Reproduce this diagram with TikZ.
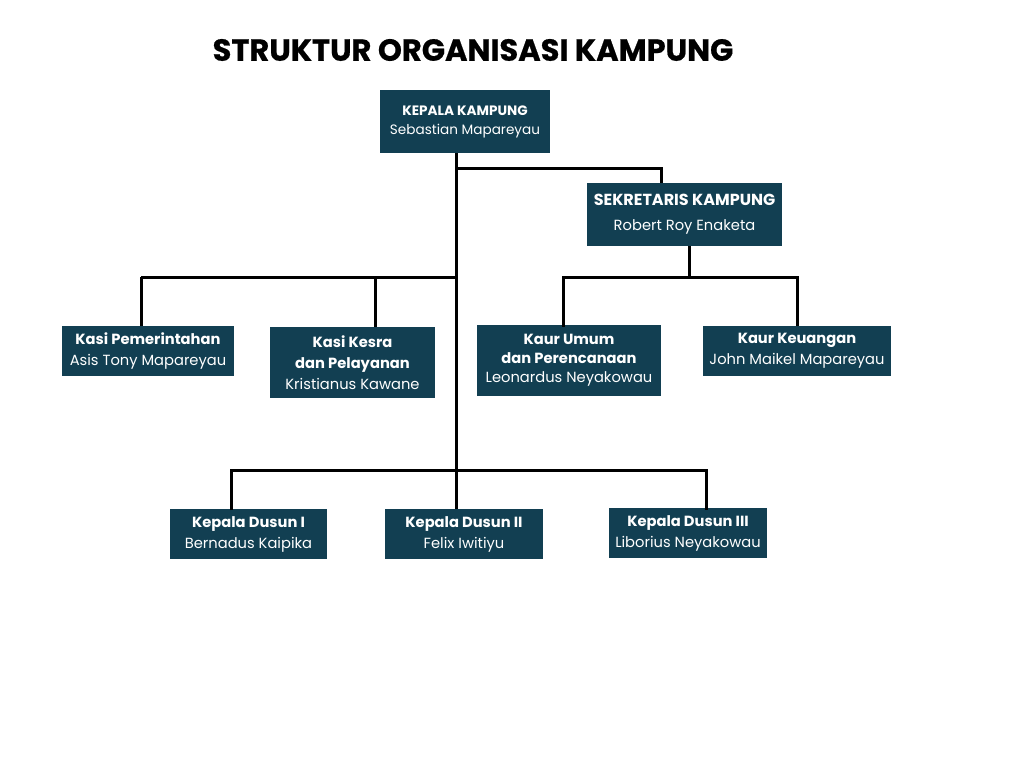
\documentclass[tikz,border=0pt]{standalone}
\usepackage{fontspec}
\setmainfont{Poppins}
\newfontfamily\titlefont{Poppins}[BoldFeatures={FakeBold=0.6}]
\definecolor{boxc}{HTML}{123F52}
\begin{document}
\begin{tikzpicture}[x=1pt,y=-1pt,
  box/.style={fill=boxc,text=white,inner sep=0pt,align=center,
    font=\fontsize{14.7}{21}\selectfont},
  ln/.style={line width=3pt,black}]
\useasboundingbox (0,0) rectangle (1024,768);
\node[font=\titlefont\bfseries\fontsize{30.5}{36}\selectfont] (title) at (473,50) {STRUKTUR ORGANISASI KAMPUNG};
\node[box,minimum width=170pt,minimum height=63pt,font=\fontsize{13.6}{19}\selectfont] (kk) at (465,121.5) {\textbf{KEPALA KAMPUNG}\\Sebastian Mapareyau};
\node[box,minimum width=195pt,minimum height=63pt] (sk) at (684.5,214.5) {{\fontsize{16}{19}\selectfont\textbf{SEKRETARIS KAMPUNG}}\\[4pt]Robert Roy Enaketa};
\node[box,minimum width=172pt,minimum height=50pt] (kp) at (148,351) {\textbf{Kasi Pemerintahan}\\Asis Tony Mapareyau};
\node[box,minimum width=165pt,minimum height=71pt] (ks) at (352.5,362.5) {\textbf{Kasi Kesra}\\\textbf{dan Pelayanan}\\Kristianus Kawane};
\node[box,minimum width=184pt,minimum height=71pt,font=\fontsize{14.7}{19}\selectfont] (ku) at (569,360) {\textbf{Kaur Umum}\\\textbf{dan Perencanaan}\\Leonardus Neyakowau};
\node[box,minimum width=188pt,minimum height=50pt] (kg) at (797,351) {\textbf{Kaur Keuangan}\\John Maikel Mapareyau};
\node[box,minimum width=157pt,minimum height=50pt] (d1) at (248.5,534) {\textbf{Kepala Dusun I}\\Bernadus Kaipika};
\node[box,minimum width=158pt,minimum height=50pt] (d2) at (464,534) {\textbf{Kepala Dusun II}\\Felix Iwitiyu};
\node[box,minimum width=158pt,minimum height=50pt] (d3) at (688,533) {\textbf{Kepala Dusun III}\\Liborius Neyakowau};
% connectors
\coordinate (t0) at (456,153);
\coordinate (t1) at (456,470);
\draw[ln] (t0) -- (t1);
\draw[ln] (456,168) -- (661,168) -- (sk.north -| 661,0);
\draw[ln] (141,277) -- (456,277);
\draw[ln] (141,277) -- (kp.north -| 141,0);
\draw[ln] (375,277) -- (ks.north -| 375,0);
\draw[ln] (sk.south -| 689,0) -- (689,277);
\draw[ln] (563,327) -- (563,277) -- (797,277) -- (kg.north -| 797,0);
\draw[ln] (231,510) -- (231,470) -- (706,470) -- (706,510);
\draw[ln] (t1) -- (d2.north -| 456,0);
\end{tikzpicture}
\end{document}
